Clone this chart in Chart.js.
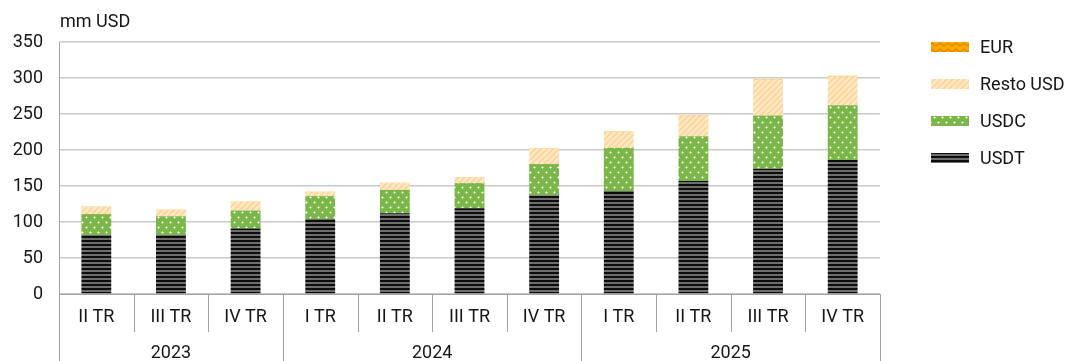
<!DOCTYPE html>
<html>
<head>
<meta charset="utf-8">
<script src="https://cdn.jsdelivr.net/npm/chart.js@4"></script>
<style>
  html, body { margin: 0; padding: 0; background: #fff; }
  #wrap { width: 1067px; height: 361px; position: relative; }
</style>
</head>
<body>
<div id="wrap"><canvas id="chart"></canvas></div>
<script>
// quarters and the years they belong to
const quarters = ['II TR', 'III TR', 'IV TR', 'I TR', 'II TR', 'III TR', 'IV TR', 'I TR', 'II TR', 'III TR', 'IV TR'];
const years = ['2023', '2024', '2025'];
const yearSpans = [3, 4, 4];

// mm USD
const usdt  = [82, 82, 91, 104, 112, 119, 137, 143, 157, 174, 186];
const usdc  = [29, 26, 25, 32, 32.5, 35, 43.5, 60, 62, 74, 76];
const resto = [10, 9, 12, 6, 9.5, 8, 21.5, 22, 29, 49, 40];
const eur   = [0.3, 0.3, 0.3, 0.3, 0.4, 0.4, 0.5, 0.5, 0.6, 0.8, 1];

const yTicks = [0, 50, 100, 150, 200, 250, 300, 350];

const canvas = document.getElementById('chart');
const ctx = canvas.getContext('2d');

function makePattern(w, h, draw) {
  const c = document.createElement('canvas');
  c.width = w; c.height = h;
  draw(c.getContext('2d'));
  return ctx.createPattern(c, 'repeat');
}

const usdtFill = makePattern(4, 4, function(g) {
  g.fillStyle = '#0d0d0d'; g.fillRect(0, 0, 4, 4);
  g.fillStyle = '#6e6e6e'; g.fillRect(0, 2, 4, 2);
});
const usdcFill = makePattern(8, 10, function(g) {
  g.fillStyle = '#7ab648'; g.fillRect(0, 0, 8, 10);
  [[2, 2], [6, 7]].forEach(function(p) {
    g.fillStyle = 'rgba(255,255,255,0.55)';
    g.fillRect(p[0] - 1, p[1], 3, 1);
    g.fillRect(p[0], p[1] - 1, 1, 3);
    g.fillStyle = '#fff';
    g.fillRect(p[0], p[1], 1, 1);
  });
});
const restoFill = makePattern(6, 6, function(g) {
  g.fillStyle = '#ffe8c4'; g.fillRect(0, 0, 6, 6);
  g.strokeStyle = '#fcd497'; g.lineWidth = 1.6;
  g.beginPath();
  g.moveTo(-1, 7); g.lineTo(7, -1);
  g.moveTo(-4, 4); g.lineTo(4, -4);
  g.moveTo(2, 10); g.lineTo(10, 2);
  g.stroke();
});
const eurFill = makePattern(8, 6, function(g) {
  g.fillStyle = '#f9ab00'; g.fillRect(0, 0, 8, 6);
  g.strokeStyle = '#e08400'; g.lineWidth = 1.4;
  g.beginPath();
  g.moveTo(0, 4); g.lineTo(4, 1); g.lineTo(8, 4);
  g.stroke();
});

const textColor = '#161616';
const fontFamily = 'Roboto, "Liberation Sans", sans-serif';

// year row, separators, unit label and legend
const decorations = {
  id: 'decorations',
  afterDraw(chart) {
    const c = chart.ctx;
    const xs = chart.scales.x;
    const area = chart.chartArea;
    const band = (xs.right - xs.left) / quarters.length;
    c.save();
    c.strokeStyle = '#a3a3a3';
    c.lineWidth = 1;
    // quarter separators
    for (let i = 0; i <= quarters.length; i++) {
      const x = Math.round(xs.getPixelForValue(i) - band / 2) + 0.5;
      c.beginPath();
      c.moveTo(x, area.bottom);
      c.lineTo(x, area.bottom + 38);
      c.stroke();
    }
    // year separators and labels
    c.fillStyle = textColor;
    c.font = '18px ' + fontFamily;
    c.textAlign = 'center';
    c.textBaseline = 'middle';
    let idx = 0;
    for (let k = 0; k < years.length; k++) {
      const x0 = xs.getPixelForValue(idx) - band / 2;
      const x1 = xs.getPixelForValue(idx + yearSpans[k] - 1) + band / 2;
      [x0, x1].forEach(function(x) {
        const xx = Math.round(x) + 0.5;
        c.beginPath();
        c.moveTo(xx, area.bottom);
        c.lineTo(xx, chart.height);
        c.stroke();
      });
      c.fillText(years[k], (x0 + x1) / 2, 353);
      idx += yearSpans[k];
    }
    // unit
    c.textAlign = 'left';
    c.fillText('mm USD', 60, 22);
    // legend, top item is the top of the stack
    const items = [[3, 47], [2, 84], [1, 121], [0, 158]];
    items.forEach(function(it) {
      const ds = chart.data.datasets[it[0]];
      c.fillStyle = ds.backgroundColor;
      c.fillRect(931, it[1] - 5, 38, 10);
      c.fillStyle = textColor;
      c.fillText(ds.label, 980, it[1] + 1);
    });
    c.restore();
  }
};

new Chart(canvas, {
  type: 'bar',
  data: {
    labels: quarters,
    datasets: [
      { label: 'USDT', data: usdt, backgroundColor: usdtFill },
      { label: 'USDC', data: usdc, backgroundColor: usdcFill },
      { label: 'Resto USD', data: resto, backgroundColor: restoFill },
      { label: 'EUR', data: eur, backgroundColor: eurFill }
    ]
  },
  options: {
    responsive: true,
    maintainAspectRatio: false,
    animation: false,
    devicePixelRatio: 1,
    layout: { padding: { top: 42, right: 187, bottom: 0, left: 0 } },
    datasets: { bar: { barPercentage: 0.4, categoryPercentage: 1, borderWidth: 0 } },
    plugins: { legend: { display: false }, tooltip: { enabled: false } },
    scales: {
      x: {
        stacked: true,
        offset: true,
        grid: { display: false, drawTicks: false },
        border: { display: true, color: '#a3a3a3', width: 1 },
        ticks: { color: textColor, font: { size: 18, family: fontFamily }, padding: 13, maxRotation: 0, autoSkip: false },
        afterFit(scale) { scale.height = 67; }
      },
      y: {
        stacked: true,
        min: 0,
        max: 350,
        afterBuildTicks(scale) { scale.ticks = yTicks.map(function(v) { return { value: v }; }); },
        grid: { color: '#c9c9c9', lineWidth: 1.5, drawTicks: false },
        border: { display: true, color: '#a3a3a3', width: 1 },
        ticks: { color: textColor, font: { size: 18, family: fontFamily }, padding: 16 },
        afterFit(scale) { scale.width = 59; }
      }
    }
  },
  plugins: [decorations]
});
</script>
</body>
</html>
